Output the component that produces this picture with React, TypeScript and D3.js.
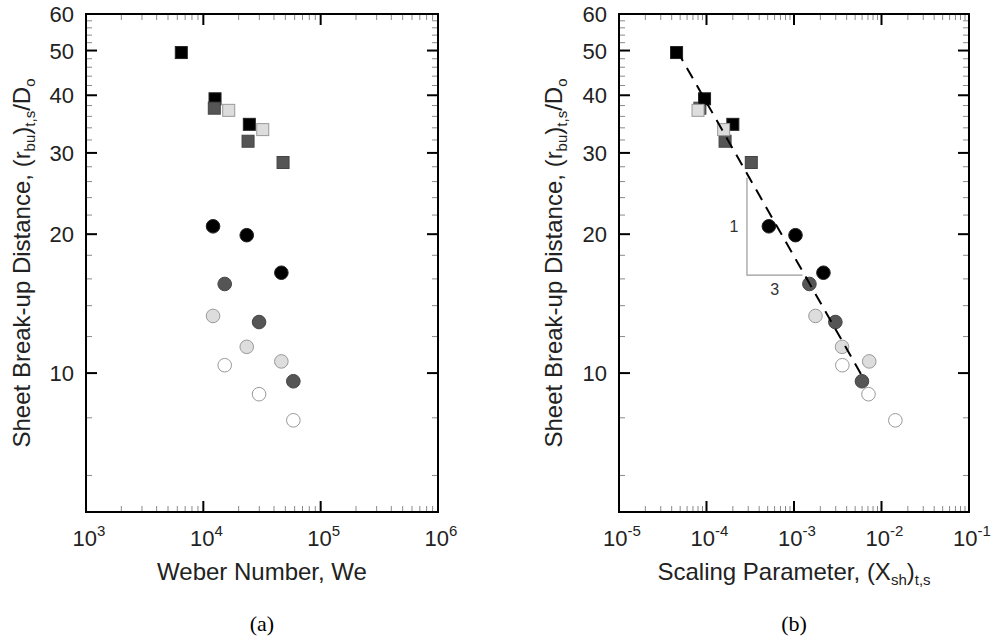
import React from "react";
import * as d3 from "d3";

// ---------- data ----------
// Squares
const sqBlackWe = [6490, 12580, 24660];
const sqBlackX = [4.55e-5, 9.5e-5, 2.0e-4];
const sqBlackR = [49.5, 39.3, 34.6];

const sqDarkWe = [12400, 24050, 47800];
const sqDarkX = [8.4e-5, 1.63e-4, 3.25e-4];
const sqDarkR = [37.5, 31.8, 28.6];

const sqLightWe = [16460, 32100];
const sqLightX = [8.0e-5, 1.57e-4];
const sqLightR = [37.1, 33.7];

// Circles
const ciBlackWe = [12100, 23440, 46240];
const ciBlackX = [5.16e-4, 1.04e-3, 2.17e-3];
const ciBlackR = [20.8, 19.9, 16.5];

const ciDarkWe = [15210, 29850, 58500];
const ciDarkX = [1.5e-3, 2.97e-3, 5.98e-3];
const ciDarkR = [15.6, 12.9, 9.6];

const ciLightWe = [12100, 23440, 46240];
const ciLightX = [1.76e-3, 3.54e-3, 7.24e-3];
const ciLightR = [13.3, 11.4, 10.6];

const ciWhiteWe = [15210, 29850, 58500];
const ciWhiteX = [3.57e-3, 7.1e-3, 1.44e-2];
const ciWhiteR = [10.4, 9.0, 7.9];

// Fit line (slope -1/3 on log-log)
const fitX = [4.6e-5, 6.3e-3];
const fitR = [50.0, 9.7];

// Slope triangle
const triX = [2.9e-4, 1.25e-3];
const triR = [26.5, 16.3];
const triLabels = ["1", "3"];

// Axis ticks
const yMajor = [10, 20, 30, 40, 50, 60];
const yMinor = [6, 8, 12, 14, 16, 18, 22, 24, 26, 28, 32, 34, 36, 38, 42, 44, 46, 48, 52, 54, 56, 58];
const leftXExp = [3, 4, 5, 6];
const rightXExp = [-5, -4, -3, -2, -1];

const yLabelMain = "Sheet Break-up Distance, (r";
const leftXTitle = "Weber Number, We";
const rightXTitleMain = "Scaling Parameter, (X";
const panelLabels = ["(a)", "(b)"];

// ---------- layout ----------
const TOP = 14;
const BOTTOM = 512;
const FONT = "'Liberation Sans', Arial, Helvetica, sans-serif";
const TEXT = "#222";
const TICKFS = 22;
const TITLEFS = 24;
const SUBFS = 15;

type Series = { xs: number[]; ys: number[]; shape: "sq" | "ci"; fill: string; stroke: string };

function Panel({
  x0, x1, xDomain, exps, series, children, xTitle, yTitleX, panelLabel,
}: {
  x0: number; x1: number; xDomain: [number, number]; exps: number[];
  series: Series[]; children?: (x: any, y: any) => React.ReactNode;
  xTitle: React.ReactNode; yTitleX: number; panelLabel: string;
}) {
  const x = d3.scaleLog().domain(xDomain).range([x0, x1]);
  const y = d3.scaleLog().domain([5, 60]).range([BOTTOM, TOP]);
  const xMinor: number[] = [];
  for (let e = exps[0]; e < exps[exps.length - 1]; e++) {
    for (let m = 2; m <= 9; m++) xMinor.push(m * Math.pow(10, e));
  }
  const MAJ = 11, MIN = 6;
  const cx = (x0 + x1) / 2;
  const cy = (TOP + BOTTOM) / 2;
  return (
    <g>
      {xMinor.map((v, i) => (
        <g key={"xm" + i} stroke="#8a8a8a" strokeWidth={1}>
          <line x1={x(v)} x2={x(v)} y1={BOTTOM} y2={BOTTOM - MIN} />
          <line x1={x(v)} x2={x(v)} y1={TOP} y2={TOP + MIN} />
        </g>
      ))}
      {yMinor.map((v, i) => (
        <g key={"ym" + i} stroke="#8a8a8a" strokeWidth={1}>
          <line x1={x0} x2={x0 + MIN} y1={y(v)} y2={y(v)} />
          <line x1={x1} x2={x1 - MIN} y1={y(v)} y2={y(v)} />
        </g>
      ))}
      {exps.map((e) => (
        <g key={"xM" + e} stroke="#000" strokeWidth={2}>
          <line x1={x(Math.pow(10, e))} x2={x(Math.pow(10, e))} y1={BOTTOM} y2={BOTTOM - MAJ} />
          <line x1={x(Math.pow(10, e))} x2={x(Math.pow(10, e))} y1={TOP} y2={TOP + MAJ} />
        </g>
      ))}
      {yMajor.map((v) => (
        <g key={"yM" + v} stroke="#000" strokeWidth={2}>
          <line x1={x0} x2={x0 + MAJ} y1={y(v)} y2={y(v)} />
          <line x1={x1} x2={x1 - MAJ} y1={y(v)} y2={y(v)} />
        </g>
      ))}
      <rect x={x0} y={TOP} width={x1 - x0} height={BOTTOM - TOP} fill="none" stroke="#000" strokeWidth={2} />
      {yMajor.map((v) => (
        <text key={"yl" + v} x={x0 - 12} y={y(v) + 8} textAnchor="end" fontFamily={FONT} fontSize={TICKFS} fill={TEXT}>
          {v}
        </text>
      ))}
      {exps.map((e) => (
        <text key={"xl" + e} x={x(Math.pow(10, e)) + 3} y={BOTTOM + 34} textAnchor="middle" fontFamily={FONT} fontSize={TICKFS} fill={TEXT}>
          10<tspan fontSize={SUBFS} dy={-10}>{String(e).replace("-", "\u2010")}</tspan>
        </text>
      ))}
      {series.map((s, si) =>
        s.xs.map((v, i) =>
          s.shape === "sq" ? (
            <rect key={"m" + si + "_" + i} x={x(v) - 6} y={y(s.ys[i]) - 6} width={12} height={12}
              fill={s.fill} stroke={s.stroke} strokeWidth={1} />
          ) : (
            <circle key={"m" + si + "_" + i} cx={x(v)} cy={y(s.ys[i])} r={6.8}
              fill={s.fill} stroke={s.stroke} strokeWidth={1} />
          )
        )
      )}
      {children ? children(x, y) : null}
      <text x={cx} y={BOTTOM + 68} textAnchor="middle" fontFamily={FONT} fontSize={TITLEFS} fill={TEXT}>
        {xTitle}
      </text>
      <text transform={`translate(${yTitleX},${cy}) rotate(-90)`} textAnchor="middle" fontFamily={FONT} fontSize={TITLEFS} fill={TEXT}>
        {yLabelMain}
        <tspan fontSize={SUBFS} dy={5}>bu</tspan>
        <tspan fontSize={TITLEFS} dy={-5}>)</tspan>
        <tspan fontSize={SUBFS} dy={5}>t,s</tspan>
        <tspan fontSize={TITLEFS} dy={-5}>/D</tspan>
        <tspan fontSize={SUBFS} dy={5}>o</tspan>
      </text>
      <text x={cx} y={BOTTOM + 119} textAnchor="middle" fontFamily="'Liberation Serif', 'Times New Roman', serif" fontSize={22} fill="#000">
        {panelLabel}
      </text>
    </g>
  );
}

export default function App() {
  const leftSeries: Series[] = [
    { xs: sqBlackWe, ys: sqBlackR, shape: "sq", fill: "#000", stroke: "#222" },
    { xs: sqDarkWe, ys: sqDarkR, shape: "sq", fill: "#555", stroke: "#444" },
    { xs: sqLightWe, ys: sqLightR, shape: "sq", fill: "#ddd", stroke: "#999" },
    { xs: ciBlackWe, ys: ciBlackR, shape: "ci", fill: "#000", stroke: "#222" },
    { xs: ciDarkWe, ys: ciDarkR, shape: "ci", fill: "#555", stroke: "#444" },
    { xs: ciLightWe, ys: ciLightR, shape: "ci", fill: "#ddd", stroke: "#999" },
    { xs: ciWhiteWe, ys: ciWhiteR, shape: "ci", fill: "#fff", stroke: "#999" },
  ];
  const rightSeries: Series[] = [
    { xs: sqDarkX, ys: sqDarkR, shape: "sq", fill: "#555", stroke: "#444" },
    { xs: sqBlackX, ys: sqBlackR, shape: "sq", fill: "#000", stroke: "#222" },
    { xs: sqLightX, ys: sqLightR, shape: "sq", fill: "#ddd", stroke: "#999" },
    { xs: ciBlackX, ys: ciBlackR, shape: "ci", fill: "#000", stroke: "#222" },
    { xs: ciDarkX, ys: ciDarkR, shape: "ci", fill: "#555", stroke: "#444" },
    { xs: ciLightX, ys: ciLightR, shape: "ci", fill: "#ddd", stroke: "#999" },
    { xs: ciWhiteX, ys: ciWhiteR, shape: "ci", fill: "#fff", stroke: "#999" },
  ];

  return (
    <svg width={992} height={643} style={{ position: "absolute", left: 0, top: 0, background: "#fff" }}>
      <Panel x0={86} x1={438} xDomain={[1e3, 1e6]} exps={leftXExp} series={leftSeries}
        xTitle={leftXTitle} yTitleX={30} panelLabel={panelLabels[0]} />
      <Panel x0={619} x1={969} xDomain={[1e-5, 1e-1]} exps={rightXExp} series={rightSeries}
        xTitle={<>{rightXTitleMain}<tspan fontSize={SUBFS} dy={5}>sh</tspan><tspan fontSize={TITLEFS} dy={-5}>)</tspan><tspan fontSize={SUBFS} dy={5}>t,s</tspan></>}
        yTitleX={562} panelLabel={panelLabels[1]}>
        {(x: any, y: any) => {
          const line = d3.line<number>().x((_, i) => x(fitX[i])).y((v) => y(v));
          return (
            <g>
              <path d={line(fitR) || ""} fill="none" stroke="#000" strokeWidth={2} strokeDasharray="12 8" />
              <polyline
                points={`${x(triX[0])},${y(triR[0])} ${x(triX[0])},${y(triR[1])} ${x(triX[1])},${y(triR[1])}`}
                fill="none" stroke="#999" strokeWidth={1.2} />
              <text x={x(triX[0]) - 13} y={(y(triR[0]) + y(triR[1])) / 2 + 6} textAnchor="middle" fontFamily={FONT} fontSize={16} fill="#333">{triLabels[0]}</text>
              <text x={(x(triX[0]) + x(triX[1])) / 2} y={y(triR[1]) + 20} textAnchor="middle" fontFamily={FONT} fontSize={16} fill="#333">{triLabels[1]}</text>
            </g>
          );
        }}
      </Panel>
    </svg>
  );
}
